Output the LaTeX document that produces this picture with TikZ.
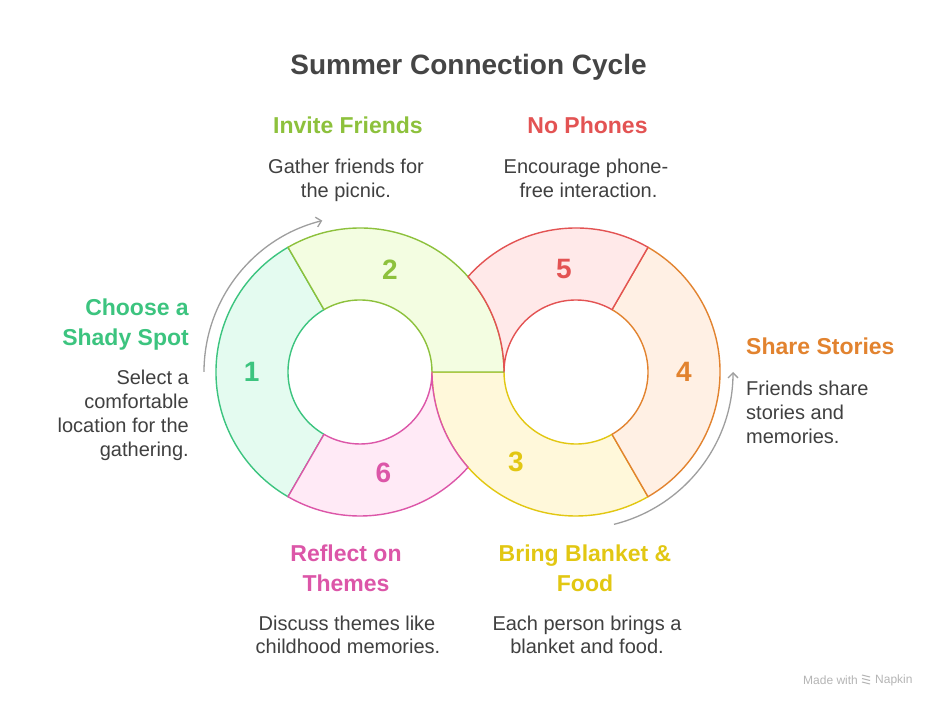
\documentclass[tikz,border=0pt]{standalone}
\usepackage{fontspec}
\setmainfont{Liberation Sans}
\usetikzlibrary{arrows.meta,calc}
\definecolor{cA}{HTML}{3CC47F}
\definecolor{cB}{HTML}{8DC13C}
\definecolor{cC}{HTML}{E2C712}
\definecolor{cD}{HTML}{E2832F}
\definecolor{cE}{HTML}{E35353}
\definecolor{cF}{HTML}{DC56A8}
\definecolor{fA}{HTML}{E4FBF0}
\definecolor{fB}{HTML}{F3FDE1}
\definecolor{fC}{HTML}{FFF8DA}
\definecolor{fD}{HTML}{FFF0E4}
\definecolor{fE}{HTML}{FFE9E9}
\definecolor{fF}{HTML}{FFEAF6}
\definecolor{titlegray}{HTML}{454545}
\definecolor{descgray}{HTML}{404040}
\definecolor{arrowgray}{HTML}{9E9E9E}
\definecolor{markgray}{HTML}{B5B5B5}
\tikzset{
  segline/.style={line width=1.4pt, line join=round},
  headtxt/.style={font=\fontsize{23}{28}\selectfont\bfseries, anchor=base, inner sep=0pt},
  desctxt/.style={font=\fontsize{20}{24}\selectfont, text=descgray, anchor=base, inner sep=0pt},
  numtxt/.style={font=\fontsize{28}{32}\selectfont\bfseries, anchor=center, inner sep=0pt},
  cyclearrow/.style={draw=arrowgray, line width=1.3pt, -{Straight Barb[length=5pt,width=10pt]}},
  marktxt/.style={font=\fontsize{12}{14}\selectfont, text=markgray, anchor=west, inner sep=0pt},
}
\begin{document}
\begin{tikzpicture}[x=1pt,y=1pt]
\useasboundingbox (0,0) rectangle (936,708);
\fill[white] (0,0) rectangle (936,708);
\coordinate (L) at (360,336);
\coordinate (R) at (576,336);

% segment 1 (left ring, 120-240)
\filldraw[segline, fill=fA, draw=cA] ($(L)+(120:144pt)$) arc[start angle=120, end angle=240, radius=144pt]
  -- ($(L)+(240:72pt)$) arc[start angle=240, end angle=120, radius=72pt] -- cycle;
% segment 3 (right ring, 180-300)
\filldraw[segline, fill=fC, draw=cC] ($(R)+(180:144pt)$) arc[start angle=180, end angle=300, radius=144pt]
  -- ($(R)+(300:72pt)$) arc[start angle=300, end angle=180, radius=72pt] -- cycle;
% segment 4 (right ring, -60..60)
\filldraw[segline, fill=fD, draw=cD] ($(R)+(-60:144pt)$) arc[start angle=-60, end angle=60, radius=144pt]
  -- ($(R)+(60:72pt)$) arc[start angle=60, end angle=-60, radius=72pt] -- cycle;
% segment 2 (left ring, 0-120)
\filldraw[segline, fill=fB, draw=cB] ($(L)+(0:144pt)$) arc[start angle=0, end angle=120, radius=144pt]
  -- ($(L)+(120:72pt)$) arc[start angle=120, end angle=0, radius=72pt] -- cycle;
% segment 5 (right ring, 60-180, under segment 2)
\filldraw[segline, fill=fE, draw=cE] ($(R)+(60:144pt)$) arc[start angle=60, end angle=138.5904, radius=144pt]
  arc[start angle=41.4096, end angle=0, radius=144pt]
  arc[start angle=180, end angle=60, radius=72pt] -- cycle;
% segment 6 (left ring, 240-360, under segment 3)
\filldraw[segline, fill=fF, draw=cF] ($(L)+(240:144pt)$) arc[start angle=240, end angle=318.5904, radius=144pt]
  arc[start angle=221.4096, end angle=180, radius=144pt]
  arc[start angle=360, end angle=240, radius=72pt] -- cycle;

% cycle arrows
\draw[cyclearrow] ($(L)+(180:156pt)$) arc[start angle=180, end angle=104, radius=156pt];
\draw[cyclearrow] ($(R)+(-76:157pt)$) arc[start angle=-76, end angle=0, radius=157pt];

% numbers
\node[numtxt, text=cA] (n1) at (251.7,336.3) {1};
\node[numtxt, text=cB] (n2) at (390,438) {2};
\node[numtxt, text=cC] (n3) at (516,246.3) {3};
\node[numtxt, text=cD] (n4) at (684,336.3) {4};
\node[numtxt, text=cE] (n5) at (564,438.7) {5};
\node[numtxt, text=cF] (n6) at (383.3,234.7) {6};

% title
\node[font=\fontsize{28}{32}\selectfont\bfseries, text=titlegray, anchor=base, inner sep=0pt] (title) at (468.5,633) {Summer Connection Cycle};

% step 2
\node[headtxt, text=cB] (h2) at (348,574) {Invite Friends};
\node[desctxt] (d2a) at (346,534) {Gather friends for};
\node[desctxt] (d2b) at (346,510) {the picnic.};
% step 5
\node[headtxt, text=cE] (h5) at (587.5,574) {No Phones};
\node[desctxt] (d5a) at (586,534) {Encourage phone-};
\node[desctxt] (d5b) at (588.5,510) {free interaction.};
% step 1
\node[headtxt, text=cA, anchor=base east] (h1a) at (189,392) {Choose a};
\node[headtxt, text=cA, anchor=base east] (h1b) at (189,362) {Shady Spot};
\node[desctxt, anchor=base east] (d1a) at (189,323) {Select a};
\node[desctxt, anchor=base east] (d1b) at (189,299) {comfortable};
\node[desctxt, anchor=base east] (d1c) at (189,275) {location for the};
\node[desctxt, anchor=base east] (d1d) at (189,251) {gathering.};
% step 4
\node[headtxt, text=cD, anchor=base west] (h4) at (746,353) {Share Stories};
\node[desctxt, anchor=base west] (d4a) at (746,312) {Friends share};
\node[desctxt, anchor=base west] (d4b) at (746,288) {stories and};
\node[desctxt, anchor=base west] (d4c) at (746,264) {memories.};
% step 6
\node[headtxt, text=cF] (h6a) at (346,146) {Reflect on};
\node[headtxt, text=cF] (h6b) at (346,116) {Themes};
\node[desctxt] (d6a) at (347,77) {Discuss themes like};
\node[desctxt] (d6b) at (348,54) {childhood memories.};
% step 3
\node[headtxt, text=cC] (h3a) at (585,146) {Bring Blanket \&};
\node[headtxt, text=cC] (h3b) at (585,116) {Food};
\node[desctxt] (d3a) at (587,77) {Each person brings a};
\node[desctxt] (d3b) at (587,54) {blanket and food.};

% watermark
\node[marktxt] (wm1) at (803,28) {Made with};
\node[marktxt] (wm2) at (875,28) {Napkin};
\draw[markgray, line width=1pt] (862,33) -- (870,31) (862,29.5) -- (870,27.5) (862,26) -- (870,24);
\end{tikzpicture}
\end{document}
